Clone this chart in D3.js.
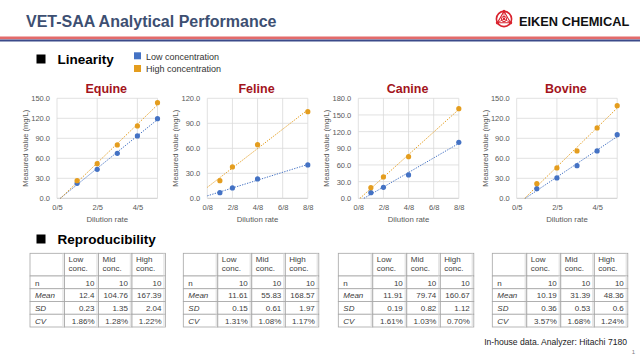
<!DOCTYPE html>
<html><head><meta charset="utf-8">
<script src="https://cdn.jsdelivr.net/npm/d3@7"></script>
<style>
html,body{margin:0;padding:0;background:#fff;}
svg{display:block;font-family:"Liberation Sans",Arial,sans-serif;}
</style></head>
<body><svg id="c" width="640" height="360"></svg>
<script>
// ---- data ----
const species = ["Equine","Feline","Canine","Bovine"];
const seriesNames = ["Low concentration","High concentration"];
const equineX = [1,2,3,4,5];
const equineLow = [22.5,43.5,67.5,93.5,119.5];
const equineHigh = [26.4,51.9,80.0,108.5,143.4];
const felineX = [1,2,4,8];
const felineLow = [6.8,12.4,23.2,40.0];
const felineHigh = [21.1,37.6,64.3,104.0];
const canineX = [1,2,4,8];
const canineLow = [10.2,19.8,42.0,100.8];
const canineHigh = [19.2,38.4,75.0,161.4];
const bovineX = [1,2,3,4,5];
const bovineLow = [14.5,30.5,49.0,71.0,95.5];
const bovineHigh = [22.0,45.5,71.0,105.5,139.0];
const xMaxes = [5,8,8,5];
const xTicksFifths = [0,2,4];
const xTicksEighths = [0,2,4,6,8];
const yMaxes = [150,120,180,150];
const yStep = 30;

const tableCols = ["Low\nconc.","Mid\nconc.","High\nconc."];
const tableRows = ["n","Mean","SD","CV"];
const equineTable = [["10","10","10"],["12.4","104.76","167.39"],["0.23","1.35","2.04"],["1.86%","1.28%","1.22%"]];
const felineTable = [["10","10","10"],["11.61","55.83","168.57"],["0.15","0.61","1.97"],["1.31%","1.08%","1.17%"]];
const canineTable = [["10","10","10"],["11.91","79.74","160.67"],["0.19","0.82","1.12"],["1.61%","1.03%","0.70%"]];
const bovineTable = [["10","10","10"],["10.19","31.39","48.36"],["0.36","0.53","0.6"],["3.57%","1.68%","1.24%"]];

const charts = [
  {x:equineX, low:equineLow, high:equineHigh, den:5, ticks:xTicksFifths},
  {x:felineX, low:felineLow, high:felineHigh, den:8, ticks:xTicksEighths},
  {x:canineX, low:canineLow, high:canineHigh, den:8, ticks:xTicksEighths},
  {x:bovineX, low:bovineLow, high:bovineHigh, den:5, ticks:xTicksFifths}
];
const tables = [equineTable, felineTable, canineTable, bovineTable];

// ---- styles ----
const BLUE="#4472c4", ORANGE="#e49d1e", TITLE_RED="#a3141c", GRID="#d9d9d9", TXT="#595959";
const svg = d3.select("#c");

// header
svg.append("text").attr("x",26).attr("y",27).attr("font-size",16).attr("font-weight","bold")
  .attr("fill","#3d4f72").text("VET-SAA Analytical Performance");
svg.append("rect").attr("x",0).attr("y",36.5).attr("width",640).attr("height",2.8).attr("fill","#e36b6b");
svg.append("rect").attr("x",0).attr("y",39.5).attr("width",640).attr("height",2).attr("fill","#3b4a8a");

// logo
const lg = svg.append("g").attr("transform","translate(504,19)");
lg.append("circle").attr("r",7.6).attr("fill","none").attr("stroke","#d9232e").attr("stroke-width",1.6);
const tri = [[0,-7.6],[-6.6,3.8],[6.6,3.8]];
lg.append("polygon").attr("points",tri.map(p=>p.join(",")).join(" ")).attr("fill","none").attr("stroke","#d9232e").attr("stroke-width",1.1);
lg.append("circle").attr("r",2.6).attr("fill","none").attr("stroke","#d9232e").attr("stroke-width",1);
tri.forEach(p=>{lg.append("circle").attr("cx",p[0]).attr("cy",p[1]).attr("r",1.6).attr("fill","#d9232e");
  lg.append("line").attr("x1",0).attr("y1",0).attr("x2",p[0]).attr("y2",p[1]).attr("stroke","#d9232e").attr("stroke-width",0.8);});
lg.append("circle").attr("r",1.2).attr("fill","#d9232e");
svg.append("text").attr("x",519).attr("y",26).attr("font-size",12.8).attr("font-weight","bold").attr("fill","#111")
  .text("EIKEN CHEMICAL");

// section headings
function heading(y, label){
  svg.append("rect").attr("x",36.5).attr("y",y-9.5).attr("width",9).attr("height",9).attr("fill","#000");
  svg.append("text").attr("x",57.5).attr("y",y).attr("font-size",13.5).attr("font-weight","bold").attr("fill","#000").text(label);
}
heading(64,"Linearity");
heading(244,"Reproducibility");

// legend
[[BLUE,52.3,59.5],[ORANGE,65,71.5]].forEach((d,i)=>{
  svg.append("rect").attr("x",134).attr("y",d[1]).attr("width",7).attr("height",7).attr("fill",d[0]);
  svg.append("text").attr("x",146).attr("y",d[2]).attr("font-size",9).attr("fill","#333").text(seriesNames[i]);
});

// charts
const plotLefts = [57,207.3,358.3,516.7];
const plotW = 100.5, plotTop = 98.3, plotBottom = 198.3;

function fit(xs, ys){
  const mx=d3.mean(xs), my=d3.mean(ys);
  let sxy=0,sxx=0; xs.forEach((x,i)=>{sxy+=(x-mx)*(ys[i]-my); sxx+=(x-mx)*(x-mx);});
  const m=sxy/sxx; return {m, b:my-m*mx};
}

charts.forEach((c,i)=>{
  const left = plotLefts[i];
  const g = svg.append("g");
  const x = d3.scaleLinear().domain([0,xMaxes[i]]).range([left,left+plotW]);
  const y = d3.scaleLinear().domain([0,yMaxes[i]]).range([plotBottom,plotTop]);
  const yt = d3.range(0,yMaxes[i]+0.001,yStep);
  // grid
  g.selectAll(".hg").data(yt).join("line").attr("x1",x(0)).attr("x2",x(xMaxes[i])).attr("y1",d=>y(d)).attr("y2",d=>y(d))
    .attr("stroke",d=>d===0?"#bfbfbf":GRID).attr("stroke-width",0.8);
  const vg = Array.from(new Set(c.ticks.concat([xMaxes[i]])));
  g.selectAll(".vg").data(vg).join("line").attr("x1",d=>x(d)).attr("x2",d=>x(d)).attr("y1",plotTop).attr("y2",plotBottom)
    .attr("stroke",GRID).attr("stroke-width",0.8);
  // y axis labels via d3 axis
  const ya = d3.axisLeft(y).tickValues(yt).tickFormat(d3.format(".1f")).tickSize(0).tickPadding(7);
  const yg = g.append("g").attr("transform",`translate(${left},0)`).call(ya);
  yg.select(".domain").remove();
  yg.selectAll("text").attr("font-size",7.5).attr("fill",TXT).attr("font-family","Liberation Sans, Arial, sans-serif");
  const xa = d3.axisBottom(x).tickValues(c.ticks).tickFormat(d=>d+"/"+c.den).tickSize(0).tickPadding(6);
  const xg = g.append("g").attr("transform",`translate(0,${plotBottom})`).call(xa);
  xg.select(".domain").remove();
  xg.selectAll("text").attr("font-size",7.5).attr("fill",TXT).attr("font-family","Liberation Sans, Arial, sans-serif");
  // axis titles
  g.append("text").attr("transform",`translate(${left-29},${(plotTop+plotBottom)/2}) rotate(-90)`)
    .attr("text-anchor","middle").attr("font-size",7.5).attr("fill",TXT).text("Measured value (mg/L)");
  g.append("text").attr("x",left+plotW/2).attr("y",222).attr("text-anchor","middle").attr("font-size",7.8).attr("fill",TXT).text("Dilution rate");
  g.append("text").attr("x",left+plotW/2-1).attr("y",92.5).attr("text-anchor","middle").attr("font-size",12.5)
    .attr("font-weight","bold").attr("fill",TITLE_RED).text(species[i]);
  // trendlines & points
  [[c.low,BLUE],[c.high,ORANGE]].forEach(([ys,col])=>{
    const f = fit(c.x, ys);
    const x0 = Math.max(0, f.b<0 ? -f.b/f.m : 0);
    const x1 = xMaxes[i];
    g.append("line").attr("x1",x(x0)).attr("y1",y(f.m*x0+f.b)).attr("x2",x(x1)).attr("y2",y(f.m*x1+f.b))
      .attr("stroke",col).attr("stroke-width",1).attr("stroke-dasharray","1.3,1.3");
  });
  [[c.low,BLUE],[c.high,ORANGE]].forEach(([ys,col])=>{
    g.selectAll(null).data(ys).join("circle").attr("cx",(d,k)=>x(c.x[k])).attr("cy",d=>y(d)).attr("r",2.6).attr("fill",col);
  });
});

// tables
const tableLefts = [30,183.3,338.3,492.3];
const colW = [34.5,34,33.5,33.5];
const headH = 22.7, rowH = 12.75, tTop = 253.3;
tables.forEach((t,i)=>{
  const g = svg.append("g");
  const left = tableLefts[i];
  const xs = [left]; colW.forEach(w=>xs.push(xs[xs.length-1]+w));
  const ys = [tTop, tTop+headH]; tableRows.forEach(()=>ys.push(ys[ys.length-1]+rowH));
  for(let r=0;r<ys.length-1;r++) for(let cc=0;cc<xs.length-1;cc++){
    g.append("rect").attr("x",xs[cc]).attr("y",ys[r]).attr("width",xs[cc+1]-xs[cc]).attr("height",ys[r+1]-ys[r])
      .attr("fill","#fff").attr("stroke","#a6a6a6").attr("stroke-width",0.8);
    g.append("line").attr("x1",xs[cc+1]-1.5).attr("x2",xs[cc+1]-1.5).attr("y1",ys[r]+0.5).attr("y2",ys[r+1]-0.5)
      .attr("stroke","#e6e6e6").attr("stroke-width",1.5);
  }
  tableCols.forEach((h,k)=>{
    h.split("\n").forEach((line,li)=>{
      g.append("text").attr("x",xs[k+1]+4).attr("y",tTop+8.5+li*9).attr("font-size",8).attr("fill","#404040").text(line);
    });
  });
  tableRows.forEach((rl,r)=>{
    g.append("text").attr("x",left+5).attr("y",ys[r+1]+9.5).attr("font-size",8).attr("fill","#404040")
      .attr("font-style",r===0?"normal":"italic").text(rl);
    t[r].forEach((v,k)=>{
      g.append("text").attr("x",xs[k+2]-4).attr("y",ys[r+1]+9.5).attr("text-anchor","end").attr("font-size",8)
        .attr("fill","#404040").text(v);
    });
  });
});

svg.append("text").attr("x",627).attr("y",345).attr("text-anchor","end").attr("font-size",8.6).attr("fill","#222")
  .text("In-house data. Analyzer: Hitachi 7180");
svg.append("text").attr("x",635).attr("y",354).attr("text-anchor","end").attr("font-size",6).attr("fill","#7f7f7f").text("1");
</script></body></html>
